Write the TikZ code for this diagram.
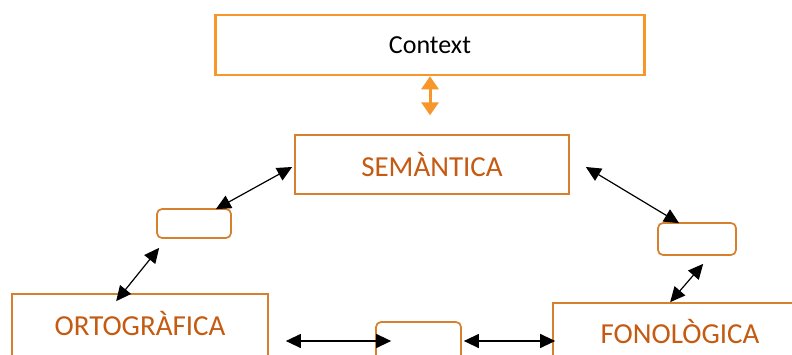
\documentclass[tikz,border=0pt]{standalone}
\usepackage{fontspec}
\setmainfont{Carlito}
\usetikzlibrary{arrows.meta,calc}

\definecolor{ctxorange}{RGB}{247,150,42}
\definecolor{boxorange}{RGB}{214,128,46}
\definecolor{txtorange}{RGB}{197,90,17}

\tikzset{
  x=1pt, y=1pt,
  ctxbox/.style={draw=ctxorange, line width=2.6pt, fill=white, inner sep=0pt,
    font=\fontsize{26}{30}\selectfont, text=black},
  levelbox/.style={draw=boxorange, line width=1.7pt, fill=white, inner sep=0pt},
  linkbox/.style={draw=boxorange, line width=1.7pt, fill=white, inner sep=0pt,
    rounded corners=5pt},
  levellabel/.style={inner sep=0pt, text=txtorange, font=\fontsize{29}{33}\selectfont},
  ctxarrow/.style={draw=ctxorange, line width=3pt,
    {Triangle[width=17pt,length=13pt]}-{Triangle[width=17pt,length=13pt]}},
  linkarrow/.style={draw=black, line width=1.2pt,
    {Triangle[width=14pt,length=15pt]}-{Triangle[width=14pt,length=15pt]}}
}

\begin{document}
\begin{tikzpicture}
\useasboundingbox (0,0) rectangle (792,354);
\fill[white] (0,0) rectangle (792,354);
\clip (0,0) rectangle (792,354);

% boxes
\node[ctxbox, minimum width=429pt, minimum height=60pt] (ctx) at (430,309) {Context};
\node[levelbox, minimum width=274pt, minimum height=59pt, text=txtorange,
      font=\fontsize{29}{33}\selectfont] (sem) at (432,189.5) {SEMÀNTICA};
\node[linkbox, minimum width=74pt, minimum height=29pt] (lsm) at (194,130.5) {};
\node[linkbox, minimum width=78pt, minimum height=32pt] (rsm) at (697,115) {};
\node[levelbox, minimum width=256pt, minimum height=90pt] (ort) at (140,15) {};
\node[levellabel] (ortlabel) at ($(ort.north)+(0,-30)$) {ORTOGRÀFICA};
\node[levelbox, minimum width=254pt, minimum height=90pt] (fon) at (680,6) {};
\node[levellabel] (fonlabel) at ($(fon.north)+(0,-29)$) {FONOLÒGICA};
\node[linkbox, minimum width=85pt, minimum height=70pt] (bot) at (418.5,-3) {};

% context link
\draw[ctxarrow] (ctx.south) -- ($(ctx.south)+(0,-39)$);

% links between levels
\draw[linkarrow] ($(lsm.north east)+(-16,-1)$) -- ($(sem.west)+(-2,-2.5)$);
\draw[linkarrow] ($(lsm.south west)+(3,-9)$) -- ($(ort.north west)+(105,-8)$);
\draw[linkarrow] ($(sem.east)+(16,-2.5)$) -- ($(rsm.north west)+(22,-1)$);
\draw[linkarrow] ($(rsm.south west)+(46,-8)$) -- ($(fon.north west)+(118,0)$);
\draw[linkarrow] ($(ort.east |- 0,13)+(17,0)$) -- ($(bot.west |- 0,13)+(16,0)$);
\draw[linkarrow] ($(bot.east |- 0,13)+(2,0)$) -- ($(fon.west |- 0,13)+(3,0)$);
\end{tikzpicture}
\end{document}
